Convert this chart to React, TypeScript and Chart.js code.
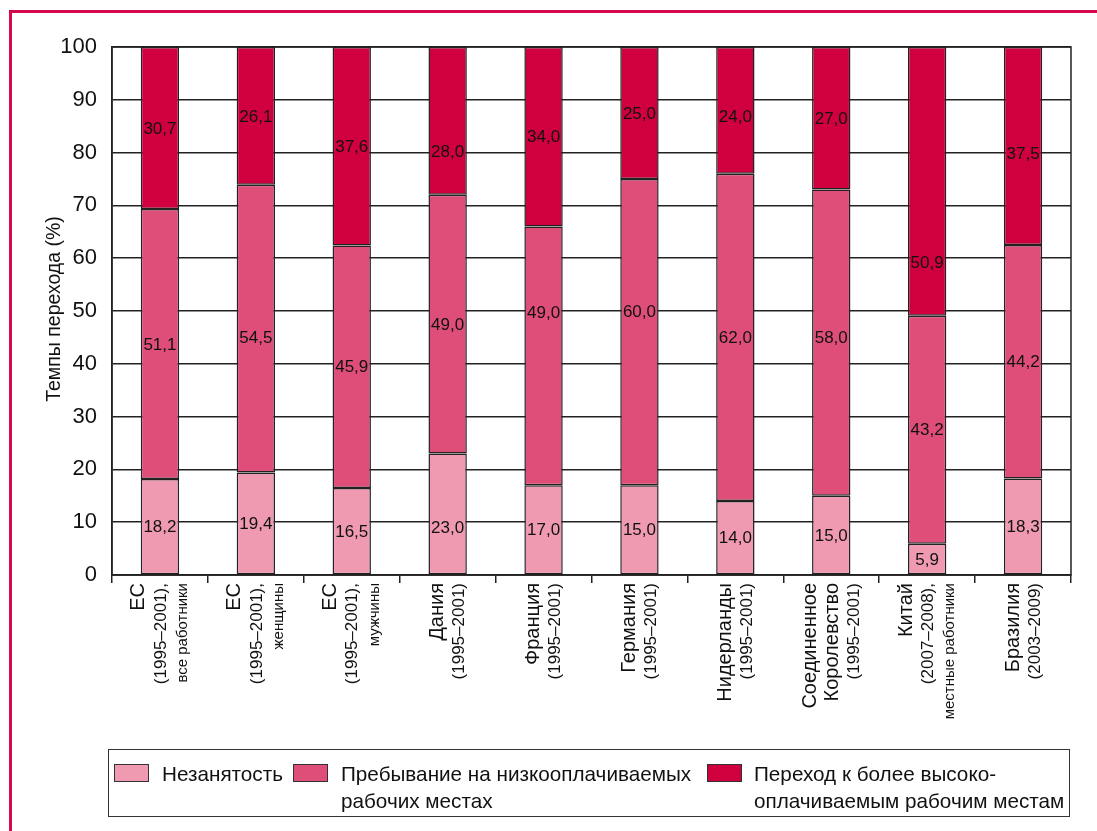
import React, { useEffect, useRef } from "react";
import { Chart, registerables } from "chart.js";

Chart.register(...registerables);

// ---- data ----
const categories = [
  "ЕС все работники",
  "ЕС женщины",
  "ЕС мужчины",
  "Дания",
  "Франция",
  "Германия",
  "Нидерланды",
  "Соединенное Королевство",
  "Китай",
  "Бразилия",
];
const countryLines: string[][] = [
  ["ЕС"],
  ["ЕС"],
  ["ЕС"],
  ["Дания"],
  ["Франция"],
  ["Германия"],
  ["Нидерланды"],
  ["Соединенное", "Королевство"],
  ["Китай"],
  ["Бразилия"],
];
const periods = [
  "(1995–2001),",
  "(1995–2001),",
  "(1995–2001),",
  "(1995–2001)",
  "(1995–2001)",
  "(1995–2001)",
  "(1995–2001)",
  "(1995–2001)",
  "(2007–2008),",
  "(2003–2009)",
];
const notes = ["все работники", "женщины", "мужчины", "", "", "", "", "", "местные работники", ""];

const seriesNames = [
  "Незанятость",
  "Пребывание на низкооплачиваемых рабочих местах",
  "Переход к более высокооплачиваемым рабочим местам",
];
// drawn heights
const unemployment = [18.2, 19.4, 16.5, 23.0, 17.0, 17.0, 14.0, 15.0, 5.9, 18.3];
const lowPaid = [51.1, 54.5, 45.9, 49.0, 49.0, 58.0, 62.0, 58.0, 43.2, 44.2];
const higherPaid = [30.7, 26.1, 37.6, 28.0, 34.0, 25.0, 24.0, 27.0, 50.9, 37.5];
// printed labels
const unemploymentLabels = ["18,2", "19,4", "16,5", "23,0", "17,0", "15,0", "14,0", "15,0", "5,9", "18,3"];
const lowPaidLabels = ["51,1", "54,5", "45,9", "49,0", "49,0", "60,0", "62,0", "58,0", "43,2", "44,2"];
const higherPaidLabels = ["30,7", "26,1", "37,6", "28,0", "34,0", "25,0", "24,0", "27,0", "50,9", "37,5"];

const yTicks = [0, 10, 20, 30, 40, 50, 60, 70, 80, 90, 100];
const yTitle = "Темпы перехода (%)";

// ---- style ----
const FONT = "'Liberation Sans', Arial, sans-serif";
const COLORS = ["#ef9ab1", "#de4e78", "#cf003d"];
const LINE = "#222";
const FRAME = "#d6084c";
// vertical nudges (px) of some value labels, as placed in the original layout
const LABEL_NUDGE: Record<string, number> = {
  "0:3": 13,
  "1:1": 9,
  "1:4": -44,
  "1:5": -21,
  "1:7": -5,
  "2:3": 30,
  "2:6": 6,
  "2:8": 81,
  "2:9": 7,
};

const W = 1097;
const H = 831;

export default function App() {
  const ref = useRef<HTMLCanvasElement | null>(null);

  useEffect(() => {
    if (!ref.current) return;
    const labelSets = [unemploymentLabels, lowPaidLabels, higherPaidLabels];

    const framePlugin = {
      id: "frameBox",
      afterDraw(chart: any) {
        const { ctx, chartArea } = chart;
        ctx.save();
        ctx.strokeStyle = LINE;
        ctx.lineWidth = 1.5;
        ctx.strokeRect(chartArea.left, chartArea.top, chartArea.right - chartArea.left, chartArea.bottom - chartArea.top);
        ctx.restore();
      },
    };

    const barLabelPlugin = {
      id: "barLabels",
      afterDatasetsDraw(chart: any) {
        const { ctx } = chart;
        ctx.save();
        ctx.font = `17px ${FONT}`;
        ctx.fillStyle = "#111";
        ctx.textAlign = "center";
        ctx.textBaseline = "middle";
        chart.data.datasets.forEach((_ds: any, di: number) => {
          const meta = chart.getDatasetMeta(di);
          meta.data.forEach((el: any, i: number) => {
            const p = el.getProps(["x", "y", "base"], true);
            const dy = LABEL_NUDGE[`${di}:${i}`] || 0;
            ctx.fillText(labelSets[di][i], p.x, (p.y + p.base) / 2 + 1 + dy);
          });
        });
        ctx.restore();
      },
    };

    const xLabelPlugin = {
      id: "xLabels",
      afterDraw(chart: any) {
        const { ctx } = chart;
        const xs = chart.scales.x;
        const top = chart.chartArea.bottom + 8;
        ctx.save();
        ctx.fillStyle = "#111";
        ctx.textAlign = "right";
        ctx.textBaseline = "middle";
        categories.forEach((_c, i) => {
          const lines: { t: string; f: string }[] = [];
          countryLines[i].forEach((t) => lines.push({ t, f: `20px ${FONT}` }));
          lines.push({ t: periods[i], f: `17px ${FONT}` });
          if (notes[i]) lines.push({ t: notes[i], f: `15px ${FONT}` });
          const cx = xs.getPixelForValue(i);
          const step = 22;
          const start = cx - ((lines.length - 1) * step) / 2 + 1;
          lines.forEach((ln, k) => {
            ctx.save();
            ctx.translate(start + k * step, top);
            ctx.rotate(-Math.PI / 2);
            ctx.font = ln.f;
            ctx.fillText(ln.t, 0, 0);
            ctx.restore();
          });
        });
        ctx.restore();
      },
    };

    const yTitlePlugin = {
      id: "yTitle",
      afterDraw(chart: any) {
        const { ctx, chartArea } = chart;
        ctx.save();
        ctx.translate(55, (chartArea.top + chartArea.bottom) / 2 - 2);
        ctx.rotate(-Math.PI / 2);
        ctx.font = `19.5px ${FONT}`;
        ctx.fillStyle = "#111";
        ctx.textAlign = "center";
        ctx.textBaseline = "middle";
        ctx.fillText(yTitle, 0, 0);
        ctx.restore();
      },
    };

    const chart = new Chart(ref.current, {
      type: "bar",
      data: {
        labels: categories,
        datasets: [unemployment, lowPaid, higherPaid].map((d, i) => ({
          label: seriesNames[i],
          data: d,
          backgroundColor: COLORS[i],
          borderColor: LINE,
          borderWidth: 1.5,
          borderSkipped: false,
          barPercentage: 0.4,
          categoryPercentage: 1,
        })),
      },
      options: {
        responsive: false,
        animation: false,
        devicePixelRatio: 1,
        layout: { padding: { left: 0, right: 26, top: 47, bottom: 0 } },
        plugins: {
          legend: { display: false },
          tooltip: { enabled: false },
        },
        scales: {
          x: {
            stacked: true,
            offset: true,
            grid: {
              offset: true,
              drawOnChartArea: false,
              drawTicks: true,
              tickLength: 8,
              color: LINE,
              lineWidth: 1.5,
            },
            border: { color: LINE, width: 1.5 },
            ticks: { display: false },
            afterFit: (s: any) => {
              s.height = H - 575;
            },
          },
          y: {
            stacked: true,
            min: 0,
            max: 100,
            afterBuildTicks: (s: any) => {
              s.ticks = yTicks.map((v) => ({ value: v }));
            },
            grid: { color: LINE, lineWidth: 1.5, drawTicks: false },
            border: { color: LINE, width: 1.5 },
            ticks: {
              padding: 15,
              color: "#111",
              font: { family: FONT, size: 22 },
            },
            afterFit: (s: any) => {
              s.width = 112;
            },
          },
        },
      },
      plugins: [framePlugin, barLabelPlugin, xLabelPlugin, yTitlePlugin],
    });
    return () => chart.destroy();
  }, []);

  const sw = (c: string, left: number) => (
    <div
      style={{
        position: "absolute",
        left,
        top: 764,
        width: 35,
        height: 18,
        boxSizing: "border-box",
        background: c,
        border: "1.5px solid #333",
      }}
    />
  );
  const txt = (lines: string[], left: number) => (
    <div
      style={{
        position: "absolute",
        left,
        top: 760,
        font: `20.7px ${FONT}`,
        lineHeight: "27px",
        color: "#111",
        whiteSpace: "nowrap",
      }}
    >
      {lines.map((l, i) => (
        <div key={i}>{l}</div>
      ))}
    </div>
  );

  return (
    <div style={{ position: "fixed", left: 0, top: 0, width: W, height: H, background: "#fff", overflow: "hidden" }}>
      <div
        style={{
          position: "absolute",
          left: 9,
          top: 10,
          right: -10,
          bottom: -10,
          borderTop: `3px solid ${FRAME}`,
          borderLeft: `3px solid ${FRAME}`,
        }}
      />
      <canvas ref={ref} width={W} height={H} style={{ position: "absolute", left: 0, top: 0 }} />
      <div
        style={{
          position: "absolute",
          left: 108,
          top: 749,
          width: 962,
          height: 68,
          boxSizing: "border-box",
          border: "1.5px solid #333",
        }}
      />
      {sw(COLORS[0], 114)}
      {txt(["Незанятость"], 162)}
      {sw(COLORS[1], 293)}
      {txt(["Пребывание на низкооплачиваемых", "рабочих местах"], 341)}
      {sw(COLORS[2], 707)}
      {txt(["Переход к более высоко-", "оплачиваемым рабочим местам"], 754)}
    </div>
  );
}
